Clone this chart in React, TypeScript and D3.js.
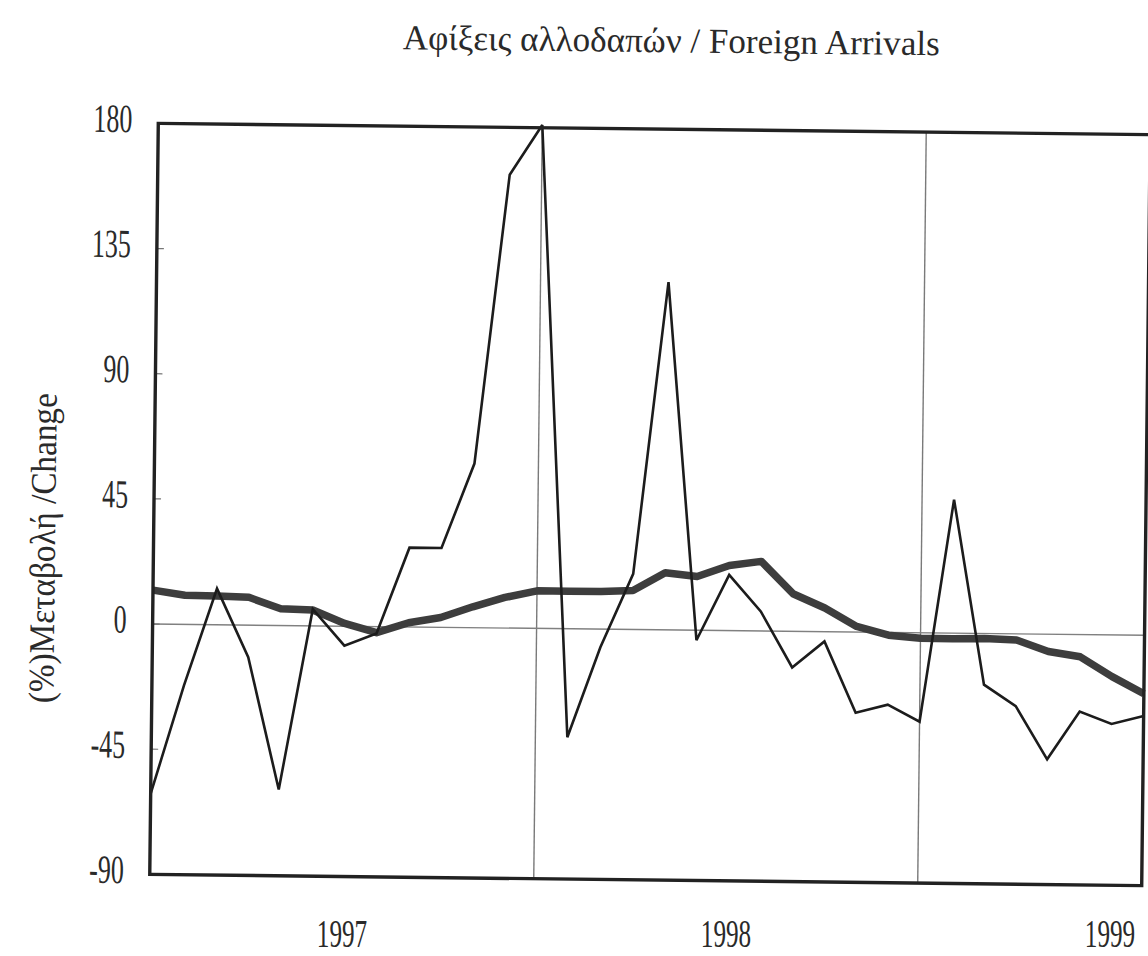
import React from "react";
import * as d3 from "d3";

// Months Jan 1997 .. Aug 1999
const months: string[] = [
  "1997-01","1997-02","1997-03","1997-04","1997-05","1997-06","1997-07","1997-08","1997-09","1997-10","1997-11","1997-12",
  "1998-01","1998-02","1998-03","1998-04","1998-05","1998-06","1998-07","1998-08","1998-09","1998-10","1998-11","1998-12",
  "1999-01","1999-02","1999-03","1999-04","1999-05","1999-06","1999-07","1999-08",
];

// Monthly % change of foreign arrivals (thin line)
const monthlyChange: number[] = [
  -61, -22, 13, -11.5, -59, 6, -7, -2.5, 28.5, 28.5, 59, 163,
  181, -39, -6.5, 20, 125, -3.6, 20, 7, -13, -3.5, -29, -26,
  -32, 48, -18.4, -26, -45, -27.7, -32, -29,
];

// Trend (thick line)
const trendChange: number[] = [
  12.2, 10.5, 10.3, 10, 6, 5.7, 1, -2.2, 1.5, 3.5, 7.5, 11,
  13.5, 13.5, 13.5, 14, 20.5, 19.3, 23.4, 25, 13.5, 8.5, 2, -1,
  -2, -2, -1.8, -2.2, -6.2, -8, -15, -21,
];

const yTicks: number[] = [-90, -45, 0, 45, 90, 135, 180];
const yearLabels: string[] = ["1997", "1998", "1999"];
const yearLabelMonths: string[] = ["1997-07", "1998-07", "1999-07"];
const yearGridMonths: string[] = ["1998-01", "1999-01"];

const title = "Αφίξεις αλλοδαπών / Foreign Arrivals";
const yTitle = "(%)Μεταβολή /Change";

const W = 1148;
const H = 956;
const left = 154;
const right = 1146;
const top = 129;
const bottom = 880;
const FONT = "'Liberation Serif', 'Times New Roman', serif";

export default function App() {
  const x = d3.scalePoint<string>().domain(months).range([left, right]);
  const y = d3.scaleLinear().domain([-90, 180]).range([bottom, top]);

  const line = d3
    .line<number>()
    .x((_, i) => x(months[i]) as number)
    .y((d) => y(d));

  const textColor = "#2a2a2a";

  return (
    <svg
      width={W}
      height={H}
      style={{ position: "absolute", left: 0, top: 0, background: "#fff" }}
    >
      <rect x={0} y={0} width={W} height={H} fill="#ffffff" />

      {/* x labels (year names, centred on mid-year) */}
      {yearLabels.map((lab, i) => (
        <text
          key={lab}
          transform={`translate(${(x(yearLabelMonths[i]) as number) - 4}, 947) scale(0.7, 1.12)`}
          textAnchor="middle"
          fontFamily={FONT}
          fontSize={36}
          fill={textColor}
        >
          {lab}
        </text>
      ))}

      <g transform="rotate(0.65 650 504)">
        {/* title */}
        <text
          x={666}
          y={52}
          textAnchor="middle"
          fontFamily={FONT}
          fontSize={35}
          fill={textColor}
          textLength={537}
          lengthAdjust="spacingAndGlyphs"
        >
          {title}
        </text>

        {/* y-axis title */}
        <text
          transform={`translate(55.5, 555) rotate(-90)`}
          textAnchor="middle"
          fontFamily={FONT}
          fontSize={36}
          fill={textColor}
          textLength={310}
          lengthAdjust="spacingAndGlyphs"
        >
          {yTitle}
        </text>

        {/* year grid lines */}
        {yearGridMonths.map((m) => (
          <line
            key={m}
            x1={x(m)}
            x2={x(m)}
            y1={top}
            y2={bottom}
            stroke="#7a7a7a"
            strokeWidth={1.4}
          />
        ))}

        {/* zero line */}
        <line x1={left} x2={right} y1={y(0)} y2={y(0)} stroke="#808080" strokeWidth={1.4} />

        {/* y ticks */}
        {yTicks.map((t) => (
          <g key={t}>
            <line
              x1={left}
              x2={left + 7}
              y1={y(t)}
              y2={y(t)}
              stroke="#777"
              strokeWidth={1.2}
            />
            <text
              transform={`translate(128, ${y(t) + 9}) scale(0.65, 1)`}
              textAnchor="end"
              fontFamily={FONT}
              fontSize={40}
              fill={textColor}
            >
              {String(t)}
            </text>
          </g>
        ))}

        {/* trend line (thick) */}
        <path
          d={line(trendChange) || ""}
          fill="none"
          stroke="#3d3d3d"
          strokeWidth={7.5}
          strokeLinejoin="round"
          strokeLinecap="butt"
        />

        {/* monthly change (thin) */}
        <path
          d={line(monthlyChange) || ""}
          fill="none"
          stroke="#1c1c1c"
          strokeWidth={2.6}
          strokeLinejoin="miter"
          strokeMiterlimit={3}
        />

        {/* frame */}
        <rect
          x={left}
          y={top}
          width={right - left}
          height={bottom - top}
          fill="none"
          stroke="#222"
          strokeWidth={3.4}
        />
      </g>
    </svg>
  );
}
